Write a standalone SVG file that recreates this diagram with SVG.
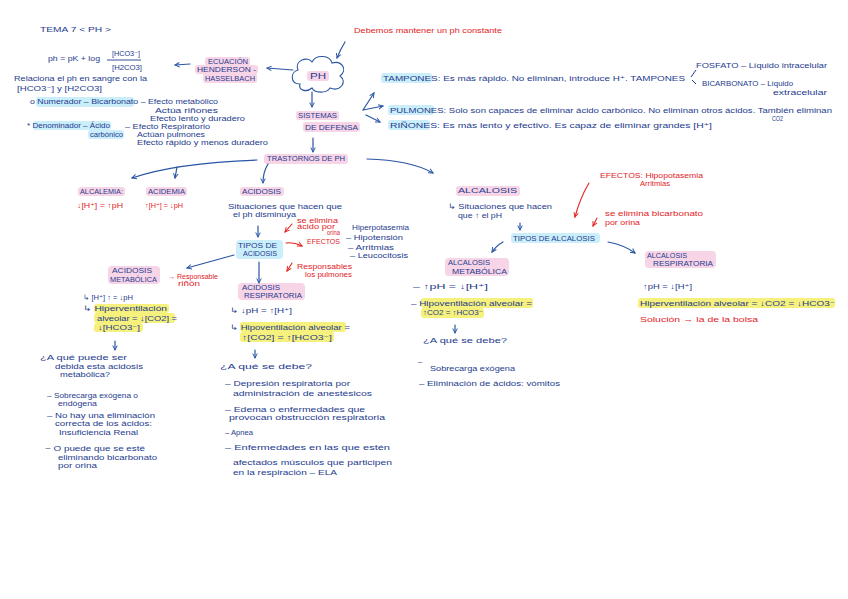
<svg xmlns="http://www.w3.org/2000/svg" width="848" height="599" viewBox="0 0 848 599">
<defs>
<style>
text{font-family:"Liberation Sans","DejaVu Sans",Arial,sans-serif;font-size:7.5px;fill:#1e3c8e;}
text.r{fill:#e3231f;}
text.h{font-size:8.5px;}
text.s{font-size:6.5px;}
.hp{fill:#f8d4e7;}
.hb{fill:#cbeefb;}
.hy{fill:#f6f07c;}
.c{fill:none;stroke:#2a55a3;stroke-width:1.2;stroke-linecap:round;}
.cr{fill:none;stroke:#e3231f;stroke-width:1.1;stroke-linecap:round;}
</style>
<marker id="ab" viewBox="0 0 8 8" refX="7" refY="4" markerWidth="6" markerHeight="6" orient="auto" markerUnits="userSpaceOnUse">
<path d="M1,1 L7,4 L1,7" fill="none" stroke="#2a55a3" stroke-width="1.3"/>
</marker>
<marker id="ar" viewBox="0 0 8 8" refX="7" refY="4" markerWidth="6" markerHeight="6" orient="auto" markerUnits="userSpaceOnUse">
<path d="M1,1 L7,4 L1,7" fill="none" stroke="#e3231f" stroke-width="1.3"/>
</marker>
</defs>
<rect width="848" height="599" fill="#ffffff"/>

<g id="title"><text x="40" y="32" textLength="71" lengthAdjust="spacingAndGlyphs">TEMA 7 &lt; PH &gt;</text></g>
<g id="nota-ph"><text class="r" x="354" y="33" textLength="148" lengthAdjust="spacingAndGlyphs">Debemos mantener un ph constante</text></g>

<g id="ph">
<path d="M300,84 C290,84 290,72 298,70 C294,60 308,56 312,62 C316,54 330,55 332,63 C342,60 348,70 340,76 C348,82 340,92 330,88 C326,94 314,93 312,88 C306,93 298,90 300,84 Z" fill="none" stroke="#2a55a3" stroke-width="1.1"/>
<rect class="hp" x="307" y="71" width="22" height="10" rx="3"/>
<text class="h" x="310" y="79" textLength="16" lengthAdjust="spacingAndGlyphs">PH</text>
</g>

<g id="ecuacion">
<rect class="hp" x="205" y="57" width="45" height="9" rx="3"/>
<rect class="hp" x="195" y="65" width="63" height="9" rx="3"/>
<rect class="hp" x="203" y="73" width="54" height="10" rx="3"/>
<text x="208" y="64" textLength="40" lengthAdjust="spacingAndGlyphs">ECUACIÓN</text>
<text x="197" y="72" textLength="59" lengthAdjust="spacingAndGlyphs">HENDERSON -</text>
<text x="205" y="81" textLength="50" lengthAdjust="spacingAndGlyphs">HASSELBACH</text>
</g>

<g id="formula">
<text x="48" y="61" textLength="52" lengthAdjust="spacingAndGlyphs">ph = pK + log</text>
<text x="112" y="56" textLength="28" lengthAdjust="spacingAndGlyphs">[HCO3⁻]</text>
<line x1="107" y1="60" x2="141" y2="60" stroke="#1e3c8e" stroke-width="0.9"/>
<text x="112" y="70" textLength="30" lengthAdjust="spacingAndGlyphs">[H2CO3]</text>
<text x="14" y="81" textLength="133" lengthAdjust="spacingAndGlyphs">Relaciona el ph en sangre con la</text>
<text x="17" y="91" textLength="85" lengthAdjust="spacingAndGlyphs">[HCO3⁻] y [H2CO3]</text>
</g>

<g id="numerador">
<rect class="hb" x="36" y="97" width="98" height="10" rx="3"/>
<text x="30" y="104" textLength="188" lengthAdjust="spacingAndGlyphs">o Numerador – Bicarbonato – Efecto metabólico</text>
<text class="s" x="155" y="113" textLength="63" lengthAdjust="spacingAndGlyphs">Actúa riñones</text>
<text x="150" y="121" textLength="95" lengthAdjust="spacingAndGlyphs">Efecto lento y duradero</text>
</g>

<g id="denominador">
<rect class="hb" x="33" y="121" width="78" height="9" rx="3"/>
<rect class="hb" x="88" y="130" width="36" height="9" rx="3"/>
<text x="27" y="128" textLength="83" lengthAdjust="spacingAndGlyphs">* Denominador – Ácido</text>
<text x="90" y="137" textLength="33" lengthAdjust="spacingAndGlyphs">carbónico</text>
<text class="s" x="125" y="129" textLength="85" lengthAdjust="spacingAndGlyphs">– Efecto Respiratorio</text>
<text class="s" x="137" y="137" textLength="68" lengthAdjust="spacingAndGlyphs">Actúan pulmones</text>
<text x="137" y="145" textLength="131" lengthAdjust="spacingAndGlyphs">Efecto rápido y menos duradero</text>
</g>

<g id="sistemas">
<rect class="hp" x="296" y="111" width="43" height="9" rx="3"/>
<rect class="hp" x="303" y="122" width="57" height="10" rx="3"/>
<text x="298" y="118" textLength="39" lengthAdjust="spacingAndGlyphs">SISTEMAS</text>
<text x="305" y="130" textLength="53" lengthAdjust="spacingAndGlyphs">DE DEFENSA</text>
</g>

<g id="tampones">
<rect class="hb" x="381" y="73" width="51" height="10" rx="3"/>
<text x="383" y="81" textLength="302" lengthAdjust="spacingAndGlyphs">TAMPONES: Es más rápido. No eliminan, introduce H⁺. TAMPONES</text>
<path d="M696,70 L691,77 M692,80 L696,84" fill="none" stroke="#1e3c8e" stroke-width="1"/>
<text x="696" y="68" textLength="131" lengthAdjust="spacingAndGlyphs">FOSFATO – Líquido intracelular</text>
<text x="702" y="86" textLength="91" lengthAdjust="spacingAndGlyphs">BICARBONATO – Líquido</text>
<text x="773" y="95" textLength="54" lengthAdjust="spacingAndGlyphs">extracelular</text>
</g>

<g id="pulmones">
<rect class="hb" x="388" y="105" width="46" height="10" rx="3"/>
<text x="390" y="113" textLength="442" lengthAdjust="spacingAndGlyphs">PULMONES:  Solo son capaces de eliminar ácido carbónico. No eliminan otros ácidos. También eliminan</text>
<text class="s" x="772" y="121" textLength="11" lengthAdjust="spacingAndGlyphs">CO2</text>
</g>

<g id="rinones">
<rect class="hb" x="388" y="120" width="42" height="10" rx="3"/>
<text x="390" y="128" textLength="322" lengthAdjust="spacingAndGlyphs">RIÑONES: Es más lento y efectivo. Es capaz de eliminar  grandes [H⁺]</text>
</g>

<g id="trastornos">
<rect class="hp" x="264" y="154" width="84" height="10" rx="3"/>
<text x="267" y="161" textLength="78" lengthAdjust="spacingAndGlyphs">TRASTORNOS DE PH</text>
</g>

<g id="alcalemia">
<rect class="hp" x="78" y="187" width="47" height="9" rx="3"/>
<text x="80" y="194" textLength="43" lengthAdjust="spacingAndGlyphs">ALCALEMIA:</text>
<text class="r" x="77" y="208" textLength="46" lengthAdjust="spacingAndGlyphs">↓[H⁺] = ↑pH</text>
</g>

<g id="acidemia">
<rect class="hp" x="146" y="187" width="41" height="9" rx="3"/>
<text x="148" y="194" textLength="37" lengthAdjust="spacingAndGlyphs">ACIDEMIA</text>
<text class="r" x="145" y="208" textLength="38" lengthAdjust="spacingAndGlyphs">↑[H⁺] = ↓pH</text>
</g>

<g id="acidosis">
<rect class="hp" x="240" y="187" width="44" height="9" rx="3"/>
<text x="242" y="194" textLength="39" lengthAdjust="spacingAndGlyphs">ACIDOSIS</text>
<text x="228" y="209" textLength="114" lengthAdjust="spacingAndGlyphs">Situaciones que hacen que</text>
<text x="233" y="217" textLength="63" lengthAdjust="spacingAndGlyphs">el ph disminuya</text>
</g>

<g id="tipos-acidosis">
<rect class="hb" x="236" y="240" width="47" height="19" rx="4"/>
<text x="238" y="248" textLength="39" lengthAdjust="spacingAndGlyphs">TIPOS DE</text>
<text x="243" y="256" textLength="34" lengthAdjust="spacingAndGlyphs">ACIDOSIS</text>
</g>

<g id="efectos-acidosis">
<text class="r s" x="297" y="223" textLength="41" lengthAdjust="spacingAndGlyphs">se elimina</text>
<text class="r s" x="297" y="229" textLength="38" lengthAdjust="spacingAndGlyphs">ácido por</text>
<text class="r s" x="327" y="235" textLength="13" lengthAdjust="spacingAndGlyphs">orina</text>
<text class="r" x="307" y="244" textLength="33" lengthAdjust="spacingAndGlyphs">EFECTOS</text>
<text x="352" y="230" textLength="57" lengthAdjust="spacingAndGlyphs">Hiperpotasemia</text>
<text x="346" y="240" textLength="57" lengthAdjust="spacingAndGlyphs">– Hipotensión</text>
<text x="348" y="250" textLength="46" lengthAdjust="spacingAndGlyphs">– Arritmias</text>
<text x="350" y="258" textLength="58" lengthAdjust="spacingAndGlyphs">– Leucocitosis</text>
<text class="r" x="297" y="269" textLength="55" lengthAdjust="spacingAndGlyphs">Responsables</text>
<text class="r" x="305" y="277" textLength="47" lengthAdjust="spacingAndGlyphs">los pulmones</text>
</g>

<g id="acidosis-metabolica">
<rect class="hp" x="108" y="266" width="52" height="18" rx="4"/>
<text x="112" y="273" textLength="40" lengthAdjust="spacingAndGlyphs">ACIDOSIS</text>
<text x="110" y="282" textLength="47" lengthAdjust="spacingAndGlyphs">METABÓLICA</text>
<text class="r s" x="168" y="279" textLength="50" lengthAdjust="spacingAndGlyphs">→ Responsable</text>
<text class="r s" x="178" y="286" textLength="22" lengthAdjust="spacingAndGlyphs">riñón</text>
<text x="83" y="300" textLength="50" lengthAdjust="spacingAndGlyphs">↳ [H⁺] ↑ = ↓pH</text>
<rect class="hy" x="94" y="304" width="75" height="9" rx="3"/>
<rect class="hy" x="94" y="313" width="81" height="10" rx="3"/>
<rect class="hy" x="94" y="323" width="49" height="9" rx="3"/>
<text x="83" y="311" textLength="84" lengthAdjust="spacingAndGlyphs">↳ Hiperventilación</text>
<text x="97" y="321" textLength="80" lengthAdjust="spacingAndGlyphs">alveolar = ↓[CO2] =</text>
<text x="98" y="330" textLength="42" lengthAdjust="spacingAndGlyphs">↓[HCO3⁻]</text>
<text x="40" y="360" textLength="87" lengthAdjust="spacingAndGlyphs">¿A qué puede ser</text>
<text x="55" y="369" textLength="88" lengthAdjust="spacingAndGlyphs">debida esta acidosis</text>
<text x="60" y="377" textLength="50" lengthAdjust="spacingAndGlyphs">metabólica?</text>
<text x="47" y="398" textLength="91" lengthAdjust="spacingAndGlyphs">– Sobrecarga exógena o</text>
<text x="58" y="406" textLength="39" lengthAdjust="spacingAndGlyphs">endógena</text>
<text x="47" y="418" textLength="108" lengthAdjust="spacingAndGlyphs">– No hay una eliminación</text>
<text x="55" y="426" textLength="97" lengthAdjust="spacingAndGlyphs">correcta de los ácidos:</text>
<text x="59" y="435" textLength="79" lengthAdjust="spacingAndGlyphs">Insuficiencia Renal</text>
<text x="45" y="451" textLength="100" lengthAdjust="spacingAndGlyphs">~ O puede que se esté</text>
<text x="58" y="460" textLength="99" lengthAdjust="spacingAndGlyphs">eliminando bicarbonato</text>
<text x="58" y="468" textLength="39" lengthAdjust="spacingAndGlyphs">por orina</text>
</g>

<g id="acidosis-respiratoria">
<rect class="hp" x="238" y="283" width="67" height="17" rx="4"/>
<text x="242" y="290" textLength="38" lengthAdjust="spacingAndGlyphs">ACIDOSIS</text>
<text x="244" y="298" textLength="58" lengthAdjust="spacingAndGlyphs">RESPIRATORIA</text>
<text x="230" y="313" textLength="62" lengthAdjust="spacingAndGlyphs">↳ ↓pH = ↑[H⁺]</text>
<rect class="hy" x="240" y="322" width="106" height="10" rx="3"/>
<rect class="hy" x="240" y="332" width="94" height="10" rx="3"/>
<text x="230" y="330" textLength="120" lengthAdjust="spacingAndGlyphs">↳ Hipoventilación alveolar =</text>
<text x="242" y="340" textLength="90" lengthAdjust="spacingAndGlyphs">↑[CO2] = ↑[HCO3⁻]</text>
<text x="220" y="369" textLength="92" lengthAdjust="spacingAndGlyphs">¿A qué se debe?</text>
<text x="225" y="386" textLength="125" lengthAdjust="spacingAndGlyphs">– Depresión respiratoria por</text>
<text x="233" y="396" textLength="139" lengthAdjust="spacingAndGlyphs">administración de anestésicos</text>
<text x="225" y="412" textLength="140" lengthAdjust="spacingAndGlyphs">– Edema o enfermedades que</text>
<text x="229" y="420" textLength="156" lengthAdjust="spacingAndGlyphs">provocan obstrucción respiratoria</text>
<text x="225" y="435" textLength="28" lengthAdjust="spacingAndGlyphs">– Apnea</text>
<text x="225" y="450" textLength="165" lengthAdjust="spacingAndGlyphs">– Enfermedades en las que estén</text>
<text x="233" y="465" textLength="159" lengthAdjust="spacingAndGlyphs">afectados músculos que participen</text>
<text x="233" y="475" textLength="104" lengthAdjust="spacingAndGlyphs">en la respiración – ELA</text>
</g>

<g id="alcalosis">
<rect class="hp" x="456" y="186" width="64" height="10" rx="3"/>
<text x="458" y="193" textLength="59" lengthAdjust="spacingAndGlyphs">ALCALOSIS</text>
<text x="448" y="209" textLength="104" lengthAdjust="spacingAndGlyphs">↳ Situaciones que hacen</text>
<text x="458" y="218" textLength="44" lengthAdjust="spacingAndGlyphs">que ↑ el pH</text>
</g>

<g id="efectos-alcalosis">
<text class="r" x="600" y="178" textLength="103" lengthAdjust="spacingAndGlyphs">EFECTOS: Hipopotasemia</text>
<text class="r" x="640" y="186" textLength="30" lengthAdjust="spacingAndGlyphs">Arritmias</text>
<text class="r" x="605" y="216" textLength="98" lengthAdjust="spacingAndGlyphs">se elimina bicarbonato</text>
<text class="r" x="605" y="225" textLength="35" lengthAdjust="spacingAndGlyphs">por orina</text>
</g>

<g id="tipos-alcalosis">
<rect class="hb" x="511" y="233" width="89" height="10" rx="3"/>
<text x="513" y="241" textLength="82" lengthAdjust="spacingAndGlyphs">TIPOS DE ALCALOSIS</text>
</g>

<g id="alcalosis-metabolica">
<rect class="hp" x="445" y="258" width="64" height="18" rx="4"/>
<text x="448" y="265" textLength="42" lengthAdjust="spacingAndGlyphs">ALCALOSIS</text>
<text x="452" y="274" textLength="55" lengthAdjust="spacingAndGlyphs">METABÓLICA</text>
<text x="413" y="289" textLength="75" lengthAdjust="spacingAndGlyphs">–    ↑pH = ↓[H⁺]</text>
<rect class="hy" x="421" y="298" width="112" height="10" rx="3"/>
<rect class="hy" x="421" y="308" width="63" height="10" rx="3"/>
<text x="411" y="306" textLength="121" lengthAdjust="spacingAndGlyphs">– Hipoventilación alveolar =</text>
<text x="423" y="315" textLength="60" lengthAdjust="spacingAndGlyphs">↑CO2 = ↑HCO3⁻</text>
<text x="423" y="343" textLength="84" lengthAdjust="spacingAndGlyphs">¿A qué se debe?</text>
<text x="418" y="364">–</text>
<text x="430" y="371" textLength="85" lengthAdjust="spacingAndGlyphs">Sobrecarga exógena</text>
<text x="419" y="386" textLength="141" lengthAdjust="spacingAndGlyphs">– Eliminación de ácidos: vómitos</text>
</g>

<g id="alcalosis-respiratoria">
<rect class="hp" x="645" y="251" width="71" height="17" rx="4"/>
<text x="647" y="258" textLength="40" lengthAdjust="spacingAndGlyphs">ALCALOSIS</text>
<text x="653" y="266" textLength="60" lengthAdjust="spacingAndGlyphs">RESPIRATORIA</text>
<text x="643" y="289" textLength="49" lengthAdjust="spacingAndGlyphs">↑pH = ↓[H⁺]</text>
<rect class="hy" x="638" y="298" width="197" height="10" rx="3"/>
<text x="640" y="306" textLength="195" lengthAdjust="spacingAndGlyphs">Hiperventilación alveolar = ↓CO2 = ↓HCO3⁻</text>
<text class="r" x="640" y="322" textLength="118" lengthAdjust="spacingAndGlyphs">Solución → la de la bolsa</text>
</g>

<g id="connectors">
<path class="c" d="M345,42 Q340,50 337,58" marker-end="url(#ab)"/>
<path class="c" d="M293,70 Q280,69 267,68" marker-end="url(#ab)"/>
<path class="c" d="M190,64 L175,65" marker-end="url(#ab)"/>
<path class="c" d="M312,92 L312,107" marker-end="url(#ab)"/>
<path class="c" d="M363,110 L374,93" marker-end="url(#ab)"/>
<path class="c" d="M363,110 L383,106" marker-end="url(#ab)"/>
<path class="c" d="M366,115 L380,122" marker-end="url(#ab)"/>
<path class="c" d="M313,138 L313,152" marker-end="url(#ab)"/>
<path class="c" d="M257,160 Q175,163 132,178" marker-end="url(#ab)"/>
<path class="c" d="M177,167 L175,178" marker-end="url(#ab)"/>
<path class="c" d="M268,164 Q263,172 263,183" marker-end="url(#ab)"/>
<path class="c" d="M367,159 Q410,160 433,173" marker-end="url(#ab)"/>
<path class="c" d="M258,226 L258,237" marker-end="url(#ab)"/>
<path class="c" d="M234,255 L187,268" marker-end="url(#ab)"/>
<path class="c" d="M259,262 L259,283" marker-end="url(#ab)"/>
<path class="c" d="M115,341 L115,350" marker-end="url(#ab)"/>
<path class="c" d="M255,350 L255,358" marker-end="url(#ab)"/>
<path class="c" d="M520,223 L520,230" marker-end="url(#ab)"/>
<path class="c" d="M503,242 Q496,246 492,252" marker-end="url(#ab)"/>
<path class="c" d="M608,242 Q624,245 635,253" marker-end="url(#ab)"/>
<path class="c" d="M455,325 L455,333" marker-end="url(#ab)"/>
<path class="cr" d="M292,224 L285,232" marker-end="url(#ar)"/>
<path class="cr" d="M286,243 Q294,242 302,246" marker-end="url(#ar)"/>
<path class="cr" d="M292,263 L287,271" marker-end="url(#ar)"/>
<path class="cr" d="M589,183 Q580,198 575,217" marker-end="url(#ar)"/>
<path class="cr" d="M597,218 L593,226" marker-end="url(#ar)"/>
</g>
</svg>
